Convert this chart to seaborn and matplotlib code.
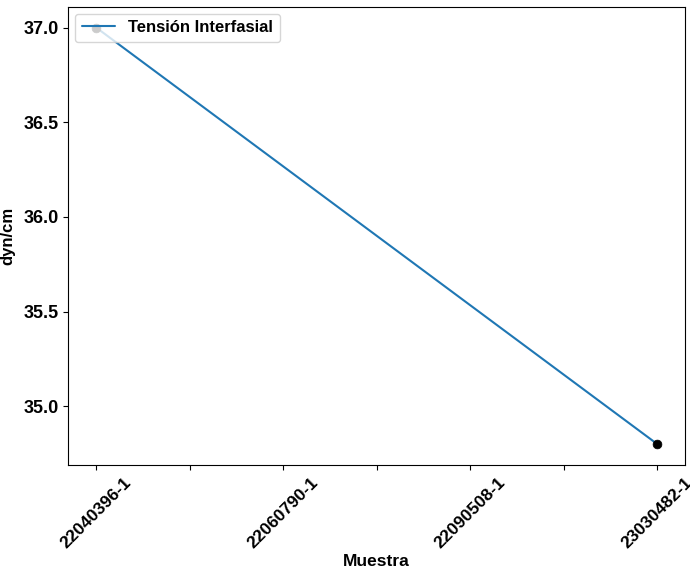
import pandas as pd
import seaborn as sns
import matplotlib.pyplot as plt

# datos
muestras = ["22040396-1", "22060790-1", "22090508-1", "23030482-1"]
pos_medidas = [0, 3]
tension = [37.0, 34.8]

df = pd.DataFrame({"pos": pos_medidas, "tension": tension})

sns.set_style("ticks")
plt.rcParams['font.family'] = ['Liberation Sans', 'DejaVu Sans']
plt.rcParams['font.weight'] = 'bold'
for k in ['text.color', 'axes.labelcolor', 'xtick.color', 'ytick.color', 'axes.edgecolor']:
    plt.rcParams[k] = 'black'

fig, ax = plt.subplots(figsize=(6.9, 5.71), dpi=100)
sns.lineplot(data=df, x="pos", y="tension", ax=ax, color="#1f77b4",
             linewidth=1.5, label="Tensión Interfasial")
sns.scatterplot(data=df, x="pos", y="tension", ax=ax, color="black",
                s=40, edgecolor="black", zorder=3)

ticks = [i * 0.5 for i in range(2 * len(muestras) - 1)]
ax.set_xticks(ticks)
ax.set_xticklabels([muestras[int(t)] if t == int(t) else "" for t in ticks],
                   rotation=45, fontsize=12.5, fontweight='bold')
ax.set_yticks([35.0, 35.5, 36.0, 36.5, 37.0])
ax.set_yticklabels([f"{v:.1f}" for v in ax.get_yticks()], fontsize=13, fontweight='bold')
ax.set_xlabel("Muestra", fontsize=12.5, fontweight='bold', labelpad=2)
ax.set_ylabel("dyn/cm", fontsize=12, fontweight='bold', labelpad=6)
ax.legend(loc="upper left", prop={'size': 12, 'weight': 'bold'}, borderaxespad=0.4)

fig.subplots_adjust(left=0.099, right=0.993, top=0.988, bottom=0.186)
plt.savefig("out.png")
